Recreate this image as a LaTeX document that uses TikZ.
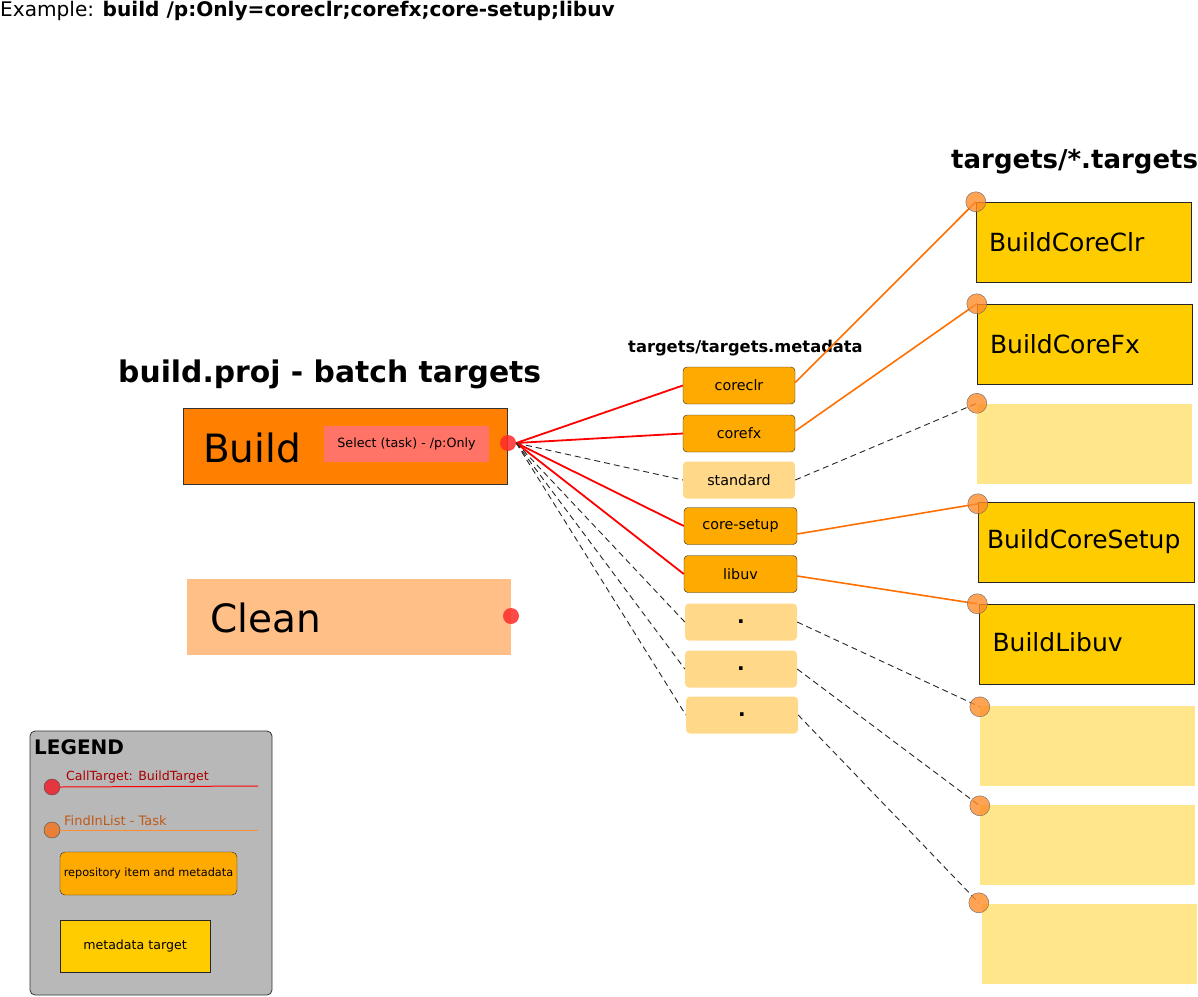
\documentclass[tikz,border=0pt]{standalone}
\usepackage{fontspec}
\setmainfont{DejaVu Sans}
\newcommand{\fsz}[1]{\fontsize{#1}{#1}\selectfont}
\definecolor{buildorange}{HTML}{FF7F00}
\definecolor{selectpink}{HTML}{FF7466}
\definecolor{cleanfill}{HTML}{FFBF87}
\definecolor{metafill}{HTML}{FFAA00}
\definecolor{metalight}{HTML}{FFD88A}
\definecolor{tgtfill}{HTML}{FFCC00}
\definecolor{tgtlight}{HTML}{FFE68A}
\definecolor{reddot}{HTML}{FF2A2A}
\definecolor{orangedot}{HTML}{FF8C2A}
\definecolor{orangeline}{HTML}{FF7000}
\definecolor{legendgray}{HTML}{B8B8B8}
\definecolor{darkred}{HTML}{AA0000}
\definecolor{brownorange}{HTML}{C05A1A}
\definecolor{legred}{HTML}{E5353F}
\definecolor{legorange}{HTML}{E8803A}
\tikzset{
  meta/.style={rounded corners=4pt, draw=black!85, fill=metafill, minimum width=112, minimum height=37, inner sep=0, font=\fsz{14.3}},
  metaL/.style={rounded corners=4pt, fill=metalight, minimum width=112, minimum height=37, inner sep=0, font=\fsz{14.3}},
  tgt/.style={draw=black!85, fill=tgtfill, minimum width=215, minimum height=80, inner xsep=13, inner ysep=0, text width=189, align=left, font=\fsz{25}},
  tgtL/.style={fill=tgtlight, minimum width=215, minimum height=80, inner sep=0},
  rdot/.style={circle, fill=reddot, fill opacity=0.85, minimum size=16, inner sep=0},
  odot/.style={circle, draw=black!60, fill=orangedot, fill opacity=0.8, minimum size=20, inner sep=0},
  redline/.style={draw=red, line width=1.8},
  orline/.style={draw=orangeline, line width=1.6},
  dline/.style={draw=black!85, line width=0.9, dash pattern=on 6pt off 4pt},
}
\begin{document}
\begin{tikzpicture}[x=1pt, y=-1pt]
\useasboundingbox (0,0) rectangle (1198,996);
% title
\node[anchor=base west, inner sep=0, font=\fsz{20.1}] (title) at (0,16) {Example: \textbf{build /p:Only=coreclr;corefx;core-setup;libuv}};
% build.proj
\node[anchor=base west, inner sep=0, font=\fsz{29.8}\bfseries] (bproj) at (118,382) {build.proj - batch targets};
\node[draw=black!80, fill=buildorange, minimum width=324, minimum height=76, inner sep=0, line width=0.8] (build) at (345,446) {};
\node[anchor=west, inner sep=0, font=\fsz{39}] (buildtxt) at (203,448) {Build};
\node[fill=selectpink, minimum width=165, minimum height=36, inner sep=0, font=\fsz{12.7}] (select) at (406.5,444) {Select (task) - /p:Only};
\node[fill=cleanfill, minimum width=324, minimum height=76, inner sep=0] (clean) at (349,617) {};
\node[anchor=west, inner sep=0, font=\fsz{39}] (cleantxt) at (210,618) {Clean};
% metadata header
\node[anchor=base west, inner sep=0, font=\fsz{16.3}\bfseries] (mhead) at (628,352) {targets/targets.metadata};
% metadata boxes
\node[meta] (m1) at (739,385.5) {coreclr};
\node[meta] (m2) at (739,433.5) {corefx};
\node[metaL] (m3) at (739,480) {standard};
\node[meta, minimum width=113] (m4) at (740.5,526) {core-setup};
\node[meta, minimum width=113] (m5) at (740.5,574) {libuv};
\node[metaL] (m6) at (741,622) {\fsz{20}\bfseries .};
\node[metaL] (m7) at (741,669) {\fsz{20}\bfseries .};
\node[metaL] (m8) at (742,715) {\fsz{20}\bfseries .};
% targets header
\node[anchor=base west, inner sep=0, font=\fsz{26}\bfseries] (thead) at (951,168) {targets/*.targets};
% targets
\node[tgt] (t1) at (1083.5,242) {BuildCoreClr};
\node[tgt] (t2) at (1084.5,344) {BuildCoreFx};
\node[tgtL] (t3) at (1084.5,443.5) {};
\node[tgt, inner xsep=9, text width=198] (t4) at (1086,542) {BuildCoreSetup};
\node[tgt] (t5) at (1087,644) {\raisebox{4pt}{BuildLibuv}};
\node[tgtL] (t6) at (1087.5,746) {};
\node[tgtL] (t7) at (1087.5,845) {};
\node[tgtL] (t8) at (1089.5,944) {};
% red dots
\node[rdot] (rd) at (508,443) {};
\node[rdot] (cd) at (511,616) {};
% connectors build -> metadata
\draw[redline] (rd.east) -- (m1.west);
\draw[redline] (rd.east) -- (m2.west);
\draw[dline] (rd.east) -- (m3.west);
\draw[redline] (rd.east) -- (m4.west);
\draw[redline] (rd.east) -- (m5.west);
\draw[dline] (rd.east) -- (m6.west);
\draw[dline] (rd.east) -- (m7.west);
\draw[dline] (rd.east) -- (m8.west);
% target dot positions
\coordinate (p1) at (t1.north west);
\coordinate (p2) at (t2.north west);
\coordinate (p3) at (t3.north west);
\coordinate (p4) at ([yshift=-2]t4.north west);
\coordinate (p5) at ([xshift=-2]t5.north west);
\coordinate (p6) at ([yshift=-1]t6.north west);
\coordinate (p7) at ([yshift=-1]t7.north west);
\coordinate (p8) at ([xshift=-3,yshift=1]t8.north west);
% connectors metadata -> targets
\draw[orline] ([yshift=3]m1.east) -- (p1);
\draw[orline] ([yshift=2.5]m2.east) -- (p2);
\draw[dline] (m3.east) -- (p3);
\draw[orline] ([yshift=-8]m4.east) -- (p4);
\draw[orline] ([yshift=-2]m5.east) -- (p5);
\draw[dline] (m6.east) -- (p6);
\draw[dline] (m7.east) -- (p7);
\draw[dline] (m8.east) -- (p8);
% dots on top
\node[odot] (o1) at (p1) {};
\node[odot] (o2) at (p2) {};
\node[odot] (o3) at (p3) {};
\node[odot] (o4) at (p4) {};
\node[odot] (o5) at (p5) {};
\node[odot] (o6) at (p6) {};
\node[odot] (o7) at (p7) {};
\node[odot] (o8) at (p8) {};
% legend
\node[draw=black!80, fill=legendgray, rounded corners=5pt, minimum width=242, minimum height=264, inner sep=0, line width=0.8] (legend) at (151,863) {};
\node[anchor=base west, inner sep=0, font=\fsz{20}\bfseries] (ltitle) at (34,754) {LEGEND};
\node[circle, draw=black!70, fill=legred, minimum size=16, inner sep=0] (ld1) at (52,787) {};
\node[circle, draw=black!70, fill=legorange, minimum size=16, inner sep=0] (ld2) at (52,830) {};
\coordinate (l1end) at (258,786);
\coordinate (l2end) at (258,830);
\draw[draw=red, line width=1] (ld1.east) -- (l1end);
\draw[draw=orangeline!80, line width=1] (ld2.east) -- (l2end);
\node[anchor=base west, inner sep=0, font=\fsz{12.6}, text=darkred] (lt1) at (66,780) {CallTarget: BuildTarget};
\node[anchor=base west, inner sep=0, font=\fsz{13}, text=brownorange] (lt2) at (64,825) {FindInList - Task};
\node[rounded corners=5pt, draw=black!85, fill=metafill, minimum width=177, minimum height=43, inner sep=0, font=\fsz{11.3}] (lb1) at (148.5,873.5) {repository item and metadata};
\node[draw=black!85, fill=tgtfill, minimum width=150, minimum height=52, inner sep=0, font=\fsz{12.6}] (lb2) at (135,946) {metadata target};
\end{tikzpicture}
\end{document}
